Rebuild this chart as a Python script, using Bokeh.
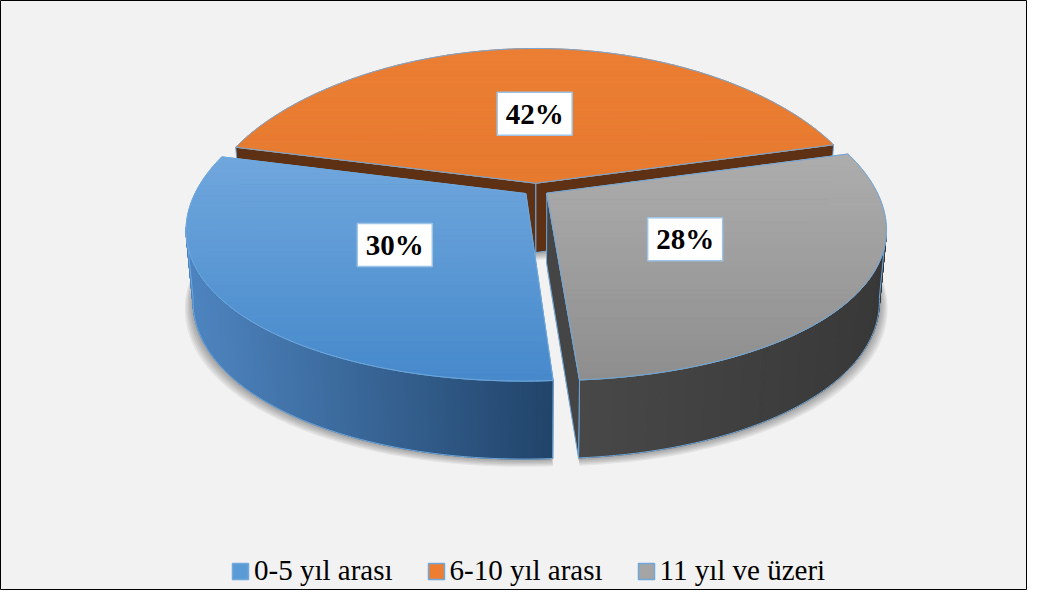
import numpy as np
from bokeh.plotting import figure
from bokeh.models import Range1d, Legend, LegendItem
from bokeh.core.properties import value
from bokeh.embed import file_html
from bokeh.resources import INLINE

# ---------------- data ----------------
categories = ["0-5 yıl arası", "6-10 yıl arası", "11 yıl ve üzeri"]
values = [30, 42, 28]
pct_labels = ["30%", "42%", "28%"]

# ---------------- styles ----------------
legend_colors = ["#5b9bd5", "#ed7d31", "#a5a5a5"]
top_colors = [("#70a7dd", "#4689cb"), ("#eb7e33", "#e67a2f"), ("#adadad", "#8e8e8e")]
side_colors = [("#4e85c1", "#21446a"), ("#9c4a15", "#7c3d12"), ("#484848", "#383838")]
cut_colors = ["#3f6fa0", "#5e3114", "#454545"]
edge_color = "#6fa8dc"

W, H = 1027, 590
p = figure(width=W, height=H, x_range=Range1d(0, W), y_range=Range1d(H, 0),
           output_backend="svg", toolbar_location=None, min_border=0,
           x_axis_location=None, y_axis_location=None,
           background_fill_color="#f2f2f2", border_fill_color="#f2f2f2",
           outline_line_color="black", outline_line_width=1)
p.grid.visible = False

# ---------------- 3D projection ----------------
cx, cy = 535.5, 189.0
sx, sy = 329.0, 335.0
taper = 0.07
elev = np.radians(28.0)
D = 5.74
t = 0.24
expl = 0.04
ca, sa = np.cos(elev), np.sin(elev)
cam = np.array([0.0, -D * ca, D * sa])


def proj(x, y, z):
    x = np.asarray(x, float)
    y = np.asarray(y, float)
    z = np.asarray(z, float) + 0 * x
    w = -y * ca + z * sa
    u = y * sa + z * ca
    f = D / (D - w)
    return cx + sx * x * f * (1 - taper * y), cy - sy * u * f


def hex2rgb(h):
    return np.array([int(h[k:k + 2], 16) for k in (1, 3, 5)], float)


def mix(c0, c1, u):
    u = min(max(u, 0.0), 1.0)
    c = hex2rgb(c0) * (1 - u) + hex2rgb(c1) * u
    return "#%02x%02x%02x" % tuple(int(round(v)) for v in c)


def clip(pts, lim, ge):
    out = []
    n = len(pts)
    for k in range(n):
        P, Q = pts[k], pts[(k + 1) % n]
        pin = (P[1] >= lim) if ge else (P[1] <= lim)
        qin = (Q[1] >= lim) if ge else (Q[1] <= lim)
        if pin:
            out.append(P)
        if pin != qin:
            tt = (lim - P[1]) / (Q[1] - P[1])
            out.append((P[0] + tt * (Q[0] - P[0]), lim))
    return out


fracs = np.array(values, float) / sum(values)
start = np.radians(274.1)
bounds = start - 2 * np.pi * np.concatenate([[0.0], np.cumsum(fracs)])
mids = 0.5 * (bounds[:-1] + bounds[1:])

# ---------------- shadow ----------------
sh_x, sh_y = [], []
for i in range(len(values)):
    a1, a0 = bounds[i], bounds[i + 1]
    ox, oy = expl * np.cos(mids[i]), expl * np.sin(mids[i])
    phi = np.linspace(a1, a0, 120)
    bx, by = proj(np.concatenate([[ox], ox + np.cos(phi)]),
                  np.concatenate([[oy], oy + np.sin(phi)]), -t)
    for k in range(1, 7):
        sh_x.append(list(cx + (bx - cx) * (1 + 0.004 * k)))
        sh_y.append(list(by + 1.3 * k))
p.patches(sh_x, sh_y, fill_color="black", fill_alpha=0.06, line_color=None)

# ---------------- slices ----------------
order = sorted(range(len(values)), key=lambda i: -np.sin(mids[i]))
label_pos = {}
for i in order:
    a1, a0 = bounds[i], bounds[i + 1]
    mid = mids[i]
    ox, oy = expl * np.cos(mid), expl * np.sin(mid)
    n = max(int((a1 - a0) * 120), 12)
    phi = np.linspace(a1, a0, n + 1)
    ax_ = ox + np.cos(phi)
    ay_ = oy + np.sin(phi)
    tx, ty = proj(ax_, ay_, 0.0)
    bx, by = proj(ax_, ay_, -t)

    # outer side
    pm = 0.5 * (phi[:-1] + phi[1:])
    nx, ny = np.cos(pm), np.sin(pm)
    vis = nx * (cam[0] - (ox + nx)) + ny * (cam[1] - (oy + ny)) > 0
    idx = np.where(vis)[0]
    if len(idx):
        xm = 0.5 * (tx[idx] + tx[idx + 1])
        x0, x1 = xm.min(), xm.max()
        qxs, qys, qcs = [], [], []
        for j in idx:
            qxs.append([tx[j], tx[j + 1], bx[j + 1], bx[j]])
            qys.append([ty[j], ty[j + 1], by[j + 1], by[j]])
            u = (0.5 * (tx[j] + tx[j + 1]) - x0) / max(x1 - x0, 1)
            qcs.append(mix(side_colors[i][0], side_colors[i][1], u))
        p.patches(qxs, qys, fill_color=qcs, line_color=qcs, line_width=1)
        runs = np.split(idx, np.where(np.diff(idx) > 1)[0] + 1)
        oxs, oys = [], []
        for r in runs:
            j0, j1 = r[0], r[-1] + 1
            oxs.append(list(tx[j0:j1 + 1]) + list(bx[j0:j1 + 1][::-1]))
            oys.append(list(ty[j0:j1 + 1]) + list(by[j0:j1 + 1][::-1]))
        p.patches(oxs, oys, fill_alpha=0, line_color=edge_color, line_width=1)

    # radial cut faces
    for ang, sign in ((a1, 1.0), (a0, -1.0)):
        nrm = sign * np.array([-np.sin(ang), np.cos(ang)])
        if nrm[0] * (cam[0] - ox) + nrm[1] * (cam[1] - oy) > 0:
            ex, ey = ox + np.cos(ang), oy + np.sin(ang)
            qx, qy = proj([ox, ex, ex, ox], [oy, ey, ey, oy], np.array([0, 0, -t, -t]))
            p.patch(list(qx), list(qy), fill_color=cut_colors[i], line_color=edge_color,
                    line_width=1)

    # top face with vertical gradient
    cxp, cyp = proj(ox, oy, 0.0)
    poly = [(float(cxp), float(cyp))] + list(zip(tx.tolist(), ty.tolist()))
    ys_all = [q[1] for q in poly]
    ymin, ymax = min(ys_all), max(ys_all)
    nb = 40
    edges = np.linspace(ymin, ymax, nb + 1)
    bxs, bys, bcs = [], [], []
    for k in range(nb):
        pts = clip(poly, edges[k], True)
        if len(pts) < 3:
            continue
        pts = clip(pts, edges[k + 1], False)
        if len(pts) < 3:
            continue
        bxs.append([q[0] for q in pts])
        bys.append([q[1] for q in pts])
        bcs.append(mix(top_colors[i][0], top_colors[i][1], (k + 0.5) / nb))
    p.patches(bxs, bys, fill_color=bcs, line_color=bcs, line_width=1)
    p.patch([q[0] for q in poly], [q[1] for q in poly], fill_alpha=0,
            line_color=edge_color, line_width=1)

    lx, ly = proj(ox + 0.48 * np.cos(mid), oy + 0.48 * np.sin(mid), 0.0)
    label_pos[i] = (float(lx), float(ly))

# ---------------- data labels ----------------
lxs = [label_pos[i][0] for i in range(len(values))]
lys = [label_pos[i][1] for i in range(len(values))]
p.rect(x=lxs, y=lys, width=75, height=43, width_units="screen", height_units="screen",
       fill_color="white", line_color="#9dc3e6", line_width=1.5)
p.text(x=lxs, y=lys, text=pct_labels, text_font=value("Liberation Serif"),
       text_font_style="bold", text_font_size="29px", text_align="center",
       text_baseline="middle", text_color="black")

# ---------------- legend ----------------
items = []
for i, cat in enumerate(categories):
    # legend proxies placed outside the visible range
    r = p.quad(left=[-50], right=[-40], top=[-50], bottom=[-40],
               fill_color=legend_colors[i], line_color=edge_color, line_width=1.5)
    items.append(LegendItem(label=cat, renderers=[r]))
legend = Legend(items=items, orientation="horizontal", location=(230, 3),
                glyph_width=20, glyph_height=20, label_standoff=4, spacing=33,
                padding=0, margin=0, border_line_color=None, background_fill_alpha=0,
                label_text_font="Liberation Serif", label_text_font_size="29px",
                label_text_color="black")
p.add_layout(legend)

open("out.html", "w").write(file_html(p, INLINE))
